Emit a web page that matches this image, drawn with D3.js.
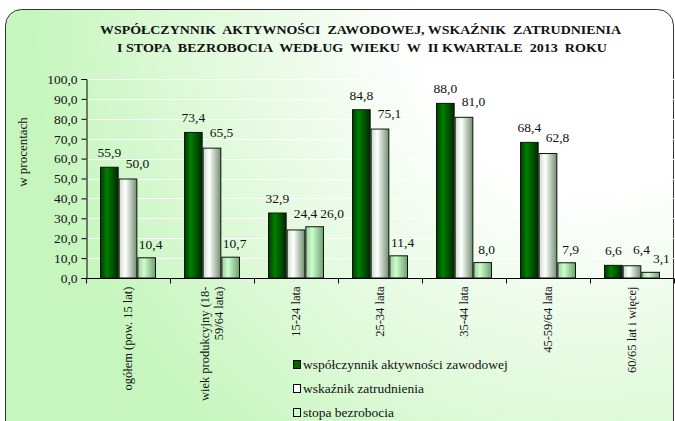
<!DOCTYPE html>
<html>
<head>
<meta charset="utf-8">
<script src="https://cdn.jsdelivr.net/npm/d3@7"></script>
<style>
  body { margin: 0; background: #fff; }
  svg { display: block; }
  svg text { font-family: "Liberation Serif", "Times New Roman", serif; }
</style>
</head>
<body>
<div id="chart"></div>
<script>
const categories = [
  'ogółem (pow. 15 lat)',
  'wiek produkcyjny (18-\n59/64 lata)',
  '15-24 lata',
  '25-34 lata',
  '35-44 lata',
  '45-59/64 lata',
  '60/65 lat i więcej'
];
const seriesNames = [
  'współczynnik aktywności zawodowej',
  'wskaźnik zatrudnienia',
  'stopa bezrobocia'
];
const aktywnosc = [55.9, 73.4, 32.9, 84.8, 88.0, 68.4, 6.6];
const zatrudnienie = [50.0, 65.5, 24.4, 75.1, 81.0, 62.8, 6.4];
const bezrobocie = [10.4, 10.7, 26.0, 11.4, 8.0, 7.9, 3.1];
const yTicks = [0, 10, 20, 30, 40, 50, 60, 70, 80, 90, 100];
const titleLines = [
  'WSPÓŁCZYNNIK  AKTYWNOŚCI  ZAWODOWEJ, WSKAŹNIK  ZATRUDNIENIA',
  'I STOPA  BEZROBOCIA  WEDŁUG  WIEKU  W  II KWARTALE  2013  ROKU'
];

const width = 675, height = 421;
const margin = {left: 86, right: 1, top: 79, bottom: 143};
const fmt = v => d3.format('.1f')(v).replace('.', ',');

const svg = d3.select('#chart').append('svg')
  .attr('width', width)
  .attr('height', height);

const defs = svg.append('defs');

// white glow at the top right, pale green towards the other corners
const bg = defs.append('radialGradient')
  .attr('id', 'bg')
  .attr('gradientUnits', 'userSpaceOnUse')
  .attr('cx', 590).attr('cy', 20).attr('r', 560);
bg.append('stop').attr('offset', 0).attr('stop-color', '#ffffff');
bg.append('stop').attr('offset', 0.3).attr('stop-color', '#ffffff');
bg.append('stop').attr('offset', 0.75).attr('stop-color', '#dcf9d6');
bg.append('stop').attr('offset', 1).attr('stop-color', '#c6f6be');

// cylinder-like shading for each series
const shades = [
  ['#003a00', '#008000', '#002a00'],
  ['#c8dcc8', '#ffffff', '#6f8f6f'],
  ['#9ccc9c', '#ccffcc', '#6f9f6f']
];
shades.forEach((s, i) => {
  const g = defs.append('linearGradient').attr('id', 'bar' + i)
    .attr('x1', 0).attr('y1', 0).attr('x2', 1).attr('y2', 0);
  g.append('stop').attr('offset', 0).attr('stop-color', s[0]);
  g.append('stop').attr('offset', 0.35).attr('stop-color', s[1]);
  g.append('stop').attr('offset', 1).attr('stop-color', s[2]);
});
const legendColors = ['#006600', '#ffffff', '#ccffcc'];

// frame
svg.append('rect')
  .attr('x', 5.5).attr('y', 9.5)
  .attr('width', 668).attr('height', 440)
  .attr('rx', 16).attr('ry', 16)
  .attr('fill', 'url(#bg)')
  .attr('stroke', '#333')
  .attr('stroke-width', 1);

// title
titleLines.forEach((t, i) => {
  svg.append('text')
    .attr('x', i === 0 ? 100 : 117)
    .attr('y', i === 0 ? 34 : 51.5)
    .attr('textLength', i === 0 ? 521 : 490)
    .attr('lengthAdjust', 'spacingAndGlyphs')
    .attr('font-size', 13)
    .attr('font-weight', 'bold')
    .attr('fill', '#111')
    .style('white-space', 'pre')
    .text(t);
});

const x0 = d3.scaleBand()
  .domain(categories)
  .range([margin.left, width - margin.right])
  .paddingInner(1 / 3)
  .paddingOuter(1 / 6);

const x1 = d3.scaleBand()
  .domain(d3.range(3))
  .range([0, x0.bandwidth()]);

const y = d3.scaleLinear()
  .domain([0, 100])
  .range([height - margin.bottom, margin.top]);

const step = x0.step();

// gridlines
svg.append('g')
  .selectAll('line')
  .data(yTicks.slice(1))
  .enter()
  .append('line')
  .attr('x1', margin.left)
  .attr('x2', width - margin.right)
  .attr('y1', d => Math.round(y(d)) + 0.5)
  .attr('y2', d => Math.round(y(d)) + 0.5)
  .attr('stroke', '#ffffff')
  .attr('stroke-width', 1.2);

// y axis
const yAxis = svg.append('g')
  .attr('transform', `translate(${margin.left + 0.5},0)`)
  .call(d3.axisLeft(y).tickValues(yTicks).tickFormat(fmt).tickSize(5).tickPadding(4));
yAxis.attr('font-family', null);
yAxis.select('.domain').attr('stroke', '#000');
yAxis.selectAll('.tick line').attr('stroke', '#000');
yAxis.selectAll('text')
  .attr('font-size', 13.5)
  .attr('fill', '#111');

svg.append('text')
  .attr('transform', 'translate(27,152) rotate(-90)')
  .attr('text-anchor', 'middle')
  .attr('font-size', 13)
  .attr('fill', '#111')
  .text('w procentach');

// bars
const data = categories.map((c, i) => ({
  cat: c,
  values: [aktywnosc[i], zatrudnienie[i], bezrobocie[i]]
}));

const groups = svg.append('g')
  .selectAll('g')
  .data(data)
  .enter()
  .append('g')
  .attr('transform', d => `translate(${x0(d.cat)},0)`);

groups.selectAll('rect')
  .data(d => d.values)
  .enter()
  .append('rect')
  .attr('x', (d, i) => x1(i) + 0.5)
  .attr('y', d => y(d) + 0.5)
  .attr('width', x1.bandwidth() - 1)
  .attr('height', d => y(0) - y(d) - 0.5)
  .attr('fill', (d, i) => `url(#bar${i})`)
  .attr('stroke', '#111')
  .attr('stroke-width', 1);

// x axis line and ticks
const xAxisY = Math.round(y(0)) + 0.5;
svg.append('line')
  .attr('x1', margin.left).attr('x2', width - margin.right)
  .attr('y1', xAxisY).attr('y2', xAxisY)
  .attr('stroke', '#000');
svg.append('g')
  .selectAll('line')
  .data(d3.range(categories.length + 1))
  .enter()
  .append('line')
  .attr('x1', i => Math.round(margin.left + i * step) + 0.5)
  .attr('x2', i => Math.round(margin.left + i * step) + 0.5)
  .attr('y1', xAxisY)
  .attr('y2', xAxisY + 5)
  .attr('stroke', '#000');

// category labels, rotated
categories.forEach(c => {
  const lines = c.split('\n');
  const cx = x0(c) + x0.bandwidth() / 2;
  lines.forEach((line, li) => {
    const off = (li - (lines.length - 1) / 2) * 14;
    svg.append('text')
      .attr('transform', `translate(${cx + off},${xAxisY + 8}) rotate(-90)`)
      .attr('text-anchor', 'end')
      .attr('dy', '0.35em')
      .attr('font-size', 12.5)
      .attr('fill', '#111')
      .text(line);
  });
});

// value labels: dark centred, the others nudged right and pushed past a colliding label
const labelDx = [0, 9.5, 4];
const labelDy = [9.5, 11, 8.5];
const labelLayer = svg.append('g');
data.forEach(d => {
  const boxes = [];
  d.values.forEach((v, i) => {
    const t = labelLayer.append('text')
      .attr('font-size', 13.5)
      .attr('fill', '#111')
      .attr('text-anchor', 'middle')
      .text(fmt(v));
    const w = t.node().getComputedTextLength();
    let cx = x0(d.cat) + x1(i) + x1.bandwidth() / 2 + labelDx[i];
    const base = y(v) - labelDy[i];
    const top = base - 10, bottom = base + 1;
    boxes.forEach(b => {
      const left = cx - w / 2;
      if (left < b.right && cx + w / 2 > b.left && top < b.bottom && bottom > b.top) {
        cx = b.right + 3 + w / 2;
      }
    });
    boxes.push({left: cx - w / 2, right: cx + w / 2, top: top, bottom: bottom});
    t.attr('x', cx).attr('y', base);
  });
});

// legend
const legend = svg.append('g')
  .attr('transform', 'translate(293,360)');
const rowH = 24;
seriesNames.forEach((name, i) => {
  legend.append('rect')
    .attr('x', 0.5)
    .attr('y', i * rowH + 0.5)
    .attr('width', 7)
    .attr('height', 8)
    .attr('fill', legendColors[i])
    .attr('stroke', '#000');
  legend.append('text')
    .attr('x', 10)
    .attr('y', i * rowH + 8.5)
    .attr('font-size', 13.5)
    .attr('fill', '#111')
    .text(name);
});
</script>
</body>
</html>
